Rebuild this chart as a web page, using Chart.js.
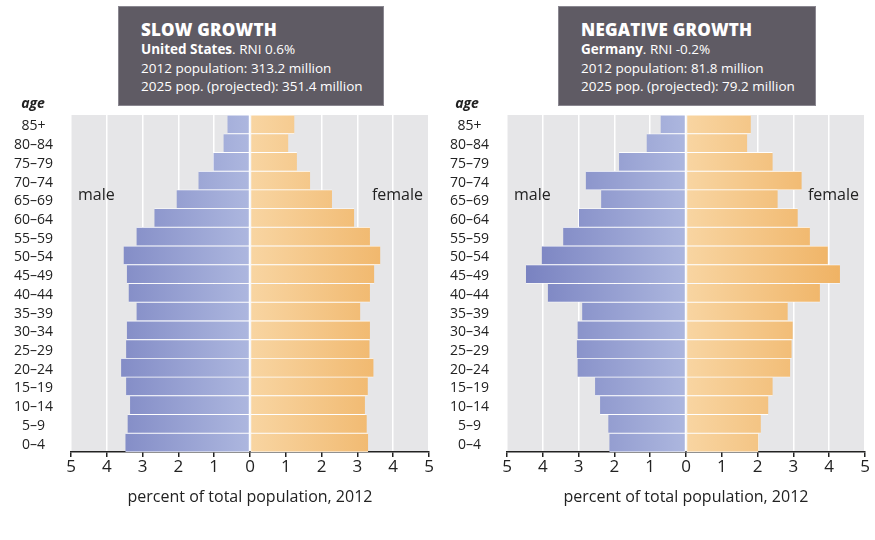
<!DOCTYPE html>
<html lang="en">
<head>
<meta charset="UTF-8">
<title>Population pyramids: slow and negative growth</title>
<script src="https://cdn.jsdelivr.net/npm/chart.js"></script>
<style>
  body { margin: 0; background: #fff; font-family: 'Open Sans', sans-serif; color: #222; }
  .wrap { position: relative; width: 875px; height: 540px; overflow: hidden; }
  canvas { position: absolute; top: 0; }
  .box {
    position: absolute; top: 6px; height: 100px; box-sizing: border-box;
    background: #5f5b64; color: #fff; padding: 12px 0 0 22px;
    font-size: 13.5px; line-height: 18.5px; border: 1px solid #8a8790;
  }
  .box h2 { margin: 0; font-size: 17px; font-weight: 800; line-height: 21px; letter-spacing: 0.2px; }
  .box b { font-weight: 700; }
  .age { position: absolute; top: 93px; width: 50px; text-align: center; font-style: italic; font-weight: bold; font-size: 14px; }
</style>
</head>
<body>
<div class="wrap">
  <canvas id="usChart" width="437" height="540" style="left:0"></canvas>
  <canvas id="deChart" width="438" height="540" style="left:437px"></canvas>

  <div class="box" style="left:118px; width:266px">
    <h2>SLOW GROWTH</h2>
    <div><b>United States</b>. RNI 0.6%</div>
    <div>2012 population: 313.2 million</div>
    <div>2025 pop. (projected): 351.4 million</div>
  </div>
  <div class="box" style="left:558px; width:258px">
    <h2>NEGATIVE GROWTH</h2>
    <div><b>Germany</b>. RNI -0.2%</div>
    <div>2012 population: 81.8 million</div>
    <div>2025 pop. (projected): 79.2 million</div>
  </div>
  <div class="age" style="left:8px">age</div>
  <div class="age" style="left:442px">age</div>
</div>

<script>
// age groups, top of the pyramid first
const ages = ['85+', '80–84', '75–79', '70–74', '65–69', '60–64', '55–59', '50–54', '45–49',
              '40–44', '35–39', '30–34', '25–29', '20–24', '15–19', '10–14', '5–9', '0–4'];

// percent of total population, 2012
const usMale   = [0.63, 0.74, 1.02, 1.44, 2.05, 2.67, 3.17, 3.53, 3.44, 3.39, 3.17, 3.44, 3.46, 3.60, 3.46, 3.35, 3.42, 3.48];
const usFemale = [1.24, 1.07, 1.31, 1.68, 2.29, 2.91, 3.35, 3.64, 3.47, 3.35, 3.08, 3.35, 3.34, 3.45, 3.29, 3.21, 3.26, 3.30];
const deMale   = [0.71, 1.10, 1.87, 2.80, 2.37, 2.99, 3.43, 4.03, 4.47, 3.86, 2.90, 3.03, 3.05, 3.03, 2.54, 2.40, 2.17, 2.14];
const deFemale = [1.81, 1.71, 2.42, 3.23, 2.56, 3.12, 3.46, 3.96, 4.30, 3.74, 2.84, 2.98, 2.95, 2.91, 2.42, 2.30, 2.09, 2.02];

const axisMin = -5;
const axisMax = 5;
const axisTitle = 'percent of total population, 2012';

// gradient fills, dark at the outer edge, light at the centre line
function maleFill(context) {
  const chart = context.chart;
  if (!chart.chartArea) return '#939ccf';
  const g = chart.ctx.createLinearGradient(chart.scales.x.getPixelForValue(axisMin), 0,
                                           chart.scales.x.getPixelForValue(0), 0);
  g.addColorStop(0, '#737cbd');
  g.addColorStop(1, '#adb7df');
  return g;
}

function femaleFill(context) {
  const chart = context.chart;
  if (!chart.chartArea) return '#f4c584';
  const g = chart.ctx.createLinearGradient(chart.scales.x.getPixelForValue(0), 0,
                                           chart.scales.x.getPixelForValue(axisMax), 0);
  g.addColorStop(0, '#f8d5a2');
  g.addColorStop(1, '#eead5a');
  return g;
}

// grey plot background
const plotBackground = {
  id: 'plotBackground',
  beforeDraw(chart) {
    const {ctx, chartArea: a} = chart;
    ctx.save();
    ctx.fillStyle = '#e6e6e8';
    ctx.fillRect(a.left, a.top, a.right - a.left, a.bottom - a.top);
    ctx.restore();
  }
};

// "male" / "female" side labels
const sideLabels = {
  id: 'sideLabels',
  afterDatasetsDraw(chart) {
    const {ctx, chartArea: a} = chart;
    const y = chart.scales.y.getPixelForValue(4) - 4;
    ctx.save();
    ctx.font = '16px "Open Sans", sans-serif';
    ctx.fillStyle = '#222';
    ctx.textBaseline = 'middle';
    ctx.textAlign = 'left';
    ctx.fillText('male', a.left + 7, y);
    ctx.textAlign = 'right';
    ctx.fillText('female', a.right - 6, y);
    ctx.restore();
  }
};

function makePyramid(id, male, female, axisWidth, padRight) {
  new Chart(document.getElementById(id), {
    type: 'bar',
    data: {
      labels: ages,
      datasets: [
        {
          label: 'male',
          data: male.map(v => -v),
          backgroundColor: maleFill,
          borderColor: '#ffffff',
          borderWidth: {top: 0.8, bottom: 0.8, left: 0, right: 0.8},
          borderSkipped: false
        },
        {
          label: 'female',
          data: female,
          backgroundColor: femaleFill,
          borderColor: '#ffffff',
          borderWidth: {top: 0.8, bottom: 0.8, left: 0.8, right: 0},
          borderSkipped: false
        }
      ]
    },
    options: {
      indexAxis: 'y',
      responsive: false,
      animation: false,
      layout: {padding: {top: 115, right: padRight, bottom: 33.4, left: 0}},
      datasets: {bar: {barPercentage: 1, categoryPercentage: 1}},
      plugins: {legend: {display: false}, tooltip: {enabled: false}},
      scales: {
        x: {
          stacked: true,
          min: axisMin,
          max: axisMax,
          ticks: {
            stepSize: 1,
            padding: 0,
            color: '#222',
            font: {family: 'Open Sans', size: 17},
            callback: v => Math.abs(v)
          },
          grid: {color: '#ffffff', lineWidth: 1.5, tickColor: '#222', tickLength: 5},
          border: {display: true, color: '#222', width: 1.5},
          title: {
            display: true,
            text: axisTitle,
            color: '#222',
            font: {family: 'Open Sans', size: 16},
            padding: {top: 10, bottom: 0}
          }
        },
        y: {
          stacked: true,
          afterFit(scale) { scale.width = axisWidth; },
          ticks: {
            autoSkip: false,
            crossAlign: 'center',
            padding: 18,
            labelOffset: 2,
            color: '#222',
            font: {family: 'Open Sans', size: 14}
          },
          grid: {display: false, drawTicks: false},
          border: {display: false}
        }
      }
    },
    plugins: [plotBackground, sideLabels]
  });
}

makePyramid('usChart', usMale, usFemale, 71, 8);
makePyramid('deChart', deMale, deFemale, 70, 10);
</script>
</body>
</html>
